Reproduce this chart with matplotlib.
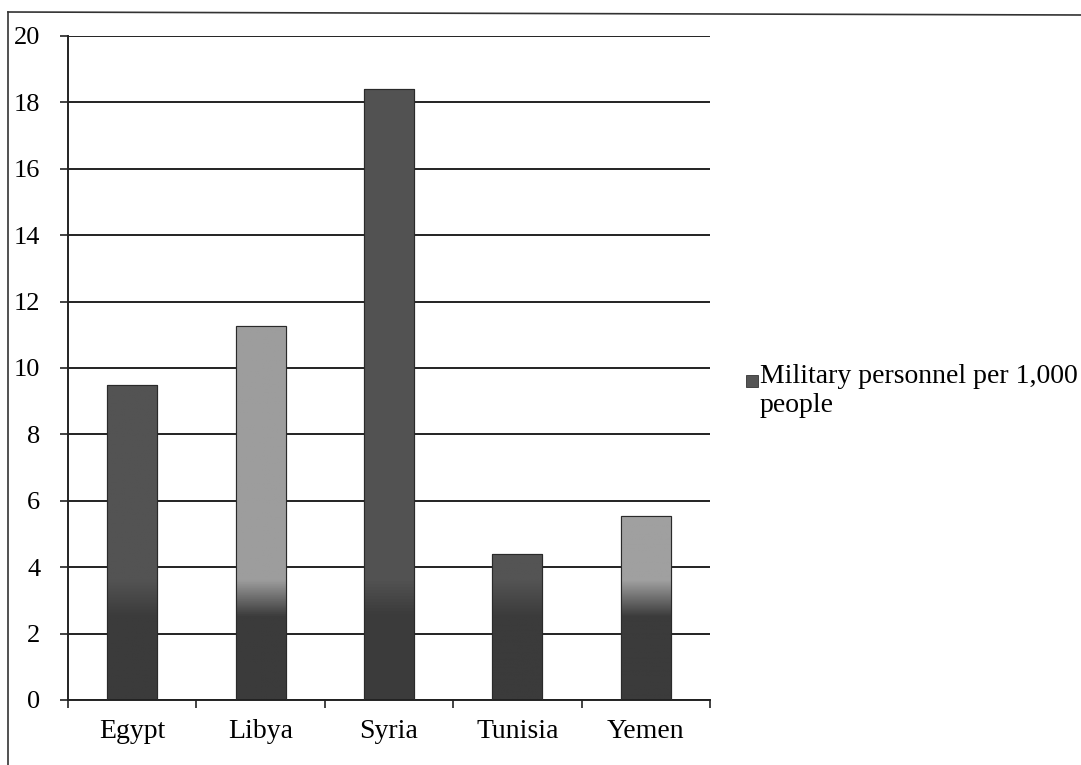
import matplotlib
matplotlib.use('Agg')
import matplotlib.pyplot as plt
import numpy as np
from matplotlib.colors import LinearSegmentedColormap
from matplotlib.lines import Line2D
from matplotlib.patches import Rectangle

paises = ['Egypt', 'Libya', 'Syria', 'Tunisia', 'Yemen']
valores = [9.5, 11.25, 18.4, 4.4, 5.55]
colores_arriba = ['#535353', '#9d9d9d', '#525252', '#545454', '#a0a0a0']
color_abajo = '#3b3b3b'
leyenda = 'Military personnel per 1,000\npeople'

plt.rcParams['font.family'] = ['Liberation Serif', 'DejaVu Serif']

fig = plt.figure(figsize=(10.81, 7.65), dpi=100)
ax = fig.add_axes([68/1081, 1 - 700/765, (710-68)/1081, (700-36)/765])

x = np.arange(len(paises))
barras = ax.bar(x, valores, width=0.39, color=colores_arriba,
                edgecolor='#2a2a2a', linewidth=0.8, zorder=2)

# degradado de cada barra: claro arriba, oscuro abajo (entre 2.5 y 3.6)
for b, c in zip(barras, colores_arriba):
    h = b.get_height()
    yy = np.linspace(0, h, 200)
    t = np.clip((yy - 2.5) / 1.1, 0, 1)
    img = t.reshape(-1, 1)
    cmap = LinearSegmentedColormap.from_list('g', [color_abajo, c])
    im = ax.imshow(img, cmap=cmap, vmin=0, vmax=1, origin='lower', aspect='auto',
                   extent=[b.get_x(), b.get_x() + b.get_width(), 0, h], zorder=2.5)
    im.set_clip_path(b)
    borde = Rectangle((b.get_x(), 0), b.get_width(), h, fill=False,
                      edgecolor='#2a2a2a', linewidth=0.8, zorder=3)
    ax.add_patch(borde)

ax.set_xlim(-0.5, len(paises) - 0.5)
ax.set_ylim(0, 20)
ax.set_yticks(np.arange(0, 21, 2))
ax.set_xticks(x)
ax.set_xticklabels(paises)
ax.set_xticks(np.arange(-0.5, len(paises), 1), minor=True)
ax.tick_params(axis='x', which='major', length=0, pad=14, labelsize=20)
ax.tick_params(axis='x', which='minor', length=6, width=1.2, color='#222222')
ax.tick_params(axis='y', length=6, width=1.2, color='#222222', pad=14, labelsize=19)

ax.yaxis.grid(True, color='#222222', linewidth=1.4)
ax.set_axisbelow(True)
for s in ['top', 'right']:
    ax.spines[s].set_visible(False)
for s in ['left', 'bottom']:
    ax.spines[s].set_color('#222222')
    ax.spines[s].set_linewidth(1.4)

# leyenda
fig.patches.append(Rectangle((746/1081, 1 - 387/765), 12/1081, 12/765,
                             transform=fig.transFigure, facecolor='#555555',
                             edgecolor='#333333', linewidth=0.6))
fig.text(760/1081, 1 - 364/765, leyenda, fontsize=20, ha='left', va='top',
         linespacing=1.2)

# marco exterior del grafico
fig.lines.append(Line2D([8/1081, 1], [1 - 12/765, 1 - 15/765], transform=fig.transFigure,
                        color='#333333', linewidth=1.2))
fig.lines.append(Line2D([8/1081, 8/1081], [1 - 12/765, 0], transform=fig.transFigure,
                        color='#333333', linewidth=1.2))

fig.savefig('out.png', dpi=100)
